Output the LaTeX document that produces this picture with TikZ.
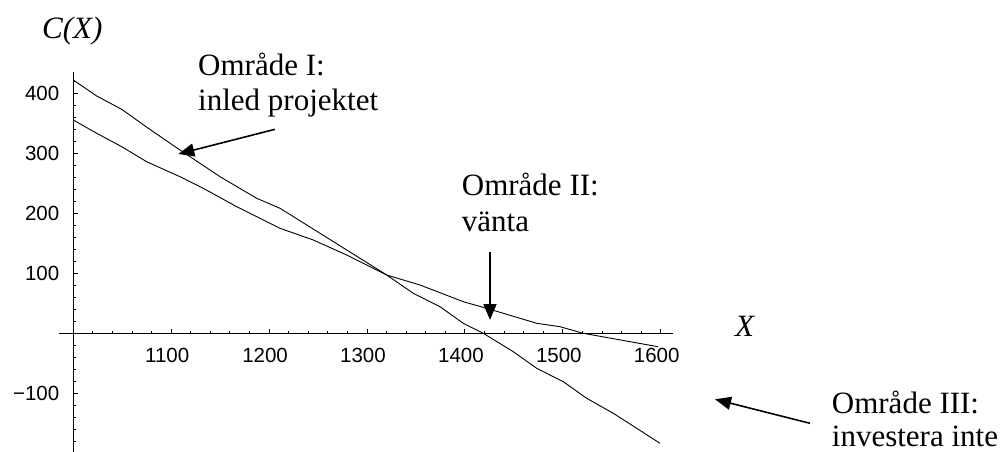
\documentclass[tikz,border=0pt]{standalone}
\usepackage{fontspec}
\setmainfont{Liberation Serif}
\newfontfamily\ticksfont{Liberation Sans}
\usetikzlibrary{arrows.meta}
\begin{document}
\begin{tikzpicture}[x=1pt,y=-1pt,
  lbl/.style={font=\fontsize{31}{35}\selectfont, inner sep=0pt, anchor=base west},
  tl/.style={font=\ticksfont\fontsize{20.5}{24}\selectfont, inner sep=0pt},
  curve/.style={line width=0.9pt, line join=round},
  ax/.style={line width=0.9pt},
  pointer/.style={line width=1.6pt, -{Triangle[length=16pt,width=13pt]}}
]
\useasboundingbox (0,0) rectangle (1003,452);

% axes
\draw[ax] (59,333.3) -- (673,333.3);
\draw[ax] (73.3,72) -- (73.3,452);

% x ticks
\foreach \X in {1020,1040,...,1600}{
  \draw[ax] ({73.3+(\X-1000)*0.979},333.3) -- ++(0,-2.5);
}
\foreach \X in {1100,1200,...,1600}{
  \draw[ax] ({73.3+(\X-1000)*0.979},333.3) -- ++(0,-4.5);
  \node[tl] (xt\X) at ({73.3+(\X-1000)*0.979-4},355.5) {\X};
}
% y ticks
\foreach \C in {-180,-160,...,420}{
  \draw[ax] (73.3,{333.3-0.6*\C}) -- ++(2.5,0);
}
\foreach \C/\t/\n in {400/400/a,300/300/b,200/200/c,100/100/d,-100/{−100}/e}{
  \draw[ax] (73.3,{333.3-0.6*\C}) -- ++(4.5,0);
  \node[tl, anchor=east] (yt\n) at (59.5,{333.3-0.6*\C}) {\t};
}

% curves
\draw[curve] (73.3,80) -- (96.7,96) -- (121.7,109.3) -- (148.3,128.3) -- (180,150)
  -- (220,176.7) -- (256.7,198.3) -- (280,208.3) -- (290,214.5) -- (386.7,275)
  -- (413.3,293.3) -- (440,306.7) -- (463.3,323.3) -- (483.3,333.3) -- (513.3,351.7)
  -- (536.7,368.3) -- (563.3,381.7) -- (586.7,398.3) -- (613.3,413.3) -- (636.7,428.3)
  -- (660,443.3);
\draw[curve] (73.3,120) -- (96.7,133.3) -- (121.7,146.7) -- (146.7,161.7) -- (180,176.7)
  -- (203.3,188.3) -- (236.7,206.7) -- (280,228.3) -- (313.3,240) -- (346.7,255)
  -- (386.7,275) -- (420,285) -- (463.3,301.7) -- (490,309.3) -- (536.7,323.3)
  -- (560,326.7) -- (583.3,333.3) -- (658,346.7);

% axis labels
\node[lbl, font=\itshape\fontsize{31}{35}\selectfont] (cx) at (42,38.3) {C(X)};
\node[lbl, font=\itshape\fontsize{31}{35}\selectfont] (xl) at (735,336) {X};

% region labels
\node[lbl] (r1a) at (198,75) {Område I:};
\node[lbl] (r1b) at (198,110) {inled projektet};
\node[lbl] (r2a) at (461.7,195.7) {Område II:};
\node[lbl] (r2b) at (461.7,231.7) {vänta};
\node[lbl] (r3a) at (831.7,413) {Område III:};
\node[lbl] (r3b) at (831.7,446) {investera inte};

% pointers
\coordinate (p1s) at (275,129.3);
\coordinate (p1e) at (178.3,154);
\coordinate (p2s) at (490,251.7);
\coordinate (p2e) at (490,320);
\coordinate (p3s) at (810,423.3);
\coordinate (p3e) at (715,399.3);
\draw[pointer] (p1s) -- (p1e);
\draw[pointer] (p2s) -- (p2e);
\draw[pointer] (p3s) -- (p3e);
\end{tikzpicture}
\end{document}
